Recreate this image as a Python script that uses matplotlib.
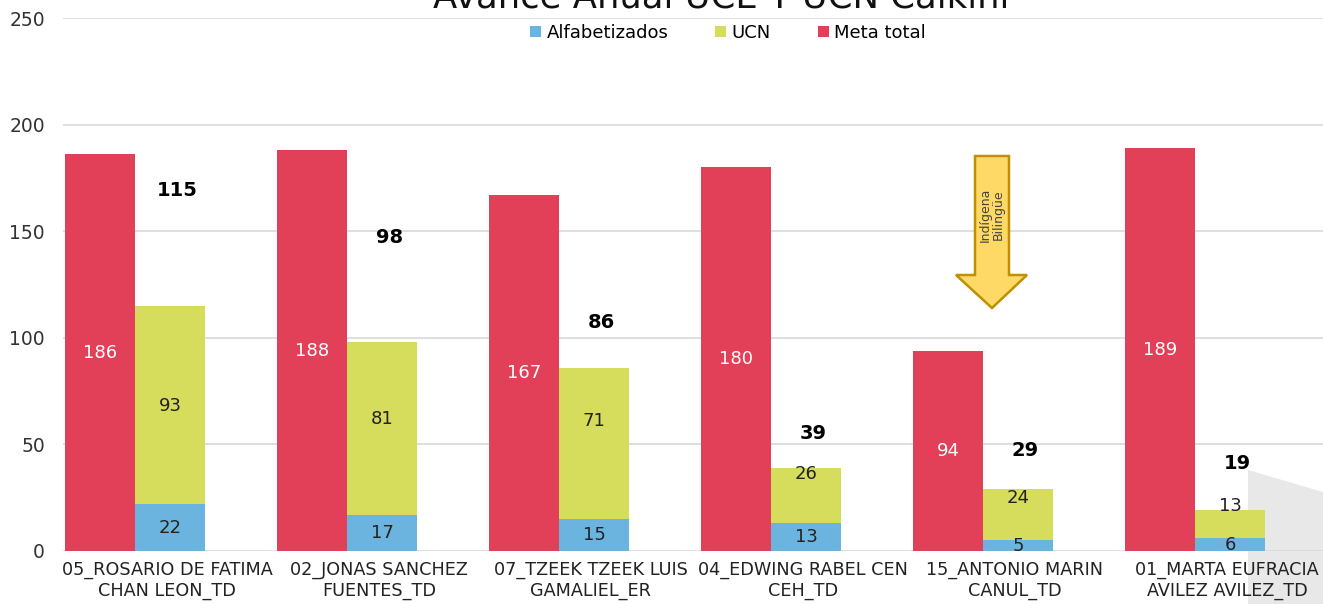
import matplotlib.pyplot as plt
import numpy as np
from matplotlib.patches import Polygon

# Data
categories = ['05_ROSARIO DE FATIMA\nCHAN LEON_TD', '02_JONAS SANCHEZ\nFUENTES_TD',
              '07_TZEEK TZEEK LUIS\nGAMALIEL_ER', '04_EDWING RABEL CEN\nCEH_TD',
              '15_ANTONIO MARIN\nCANUL_TD', '01_MARTA EUFRACIA\nAVILEZ AVILEZ_TD']
meta_total = [186, 188, 167, 180, 94, 189]
alfabetizados = [22, 17, 15, 13, 5, 6]
ucn = [93, 81, 71, 26, 24, 13]
totals = [115, 98, 86, 39, 29, 19]

# label heights (as placed in the original)
ucn_label_y = [68, 62, 61, 36, 25, 21]
total_label_y = [169, 147, 107, 55, 47, 41]

c_blue = '#6CB4E0'
c_green = '#D6DC5B'
c_red = '#E24058'

W, H = 1323, 604
fig = plt.figure(figsize=(W / 100, H / 100), dpi=100)
ax = fig.add_axes([63 / W, 1 - 551 / H, 1 - 63 / W, (551 - 18) / H])
ax.set_facecolor('none')

x = np.arange(len(categories))
width = 0.33
ax.bar(x - 0.315, meta_total, width, color=c_red, label='Meta total', zorder=3)
ax.bar(x + 0.015, alfabetizados, width, color=c_blue, label='Alfabetizados', zorder=3)
ax.bar(x + 0.015, ucn, width, bottom=alfabetizados, color=c_green, label='UCN', zorder=3)

for i in range(len(categories)):
    ax.text(x[i] - 0.315, meta_total[i] / 2, f"{meta_total[i]}", ha='center', va='center',
            color='white', fontsize=13, zorder=4)
    ax.text(x[i] + 0.015, alfabetizados[i] / 2, f"{alfabetizados[i]}", ha='center', va='center',
            color='#222222', fontsize=13, zorder=4)
    ax.text(x[i] + 0.015, ucn_label_y[i], f"{ucn[i]}", ha='center', va='center',
            color='#222222', fontsize=13, zorder=4)
    ax.text(x[i] + 0.05, total_label_y[i], f"{totals[i]}", ha='center', va='center',
            color='black', fontsize=14, fontweight='bold', zorder=4)

ax.set_xlim(-0.49, 5.453)
ax.set_ylim(0, 250)
ax.set_yticks(np.arange(0, 251, 50))
ax.set_xticks(x)
ax.set_xticklabels(categories, fontsize=12.7, color='#222222', linespacing=1.2)
ax.tick_params(axis='y', labelsize=13.5, labelcolor='#333333', length=0, pad=13)
ax.tick_params(axis='x', length=0, pad=7)
ax.grid(axis='y', color='#d9d9d9', linewidth=1.2, zorder=0)
for s in ax.spines.values():
    s.set_visible(False)

# Legend
handles, labels = ax.get_legend_handles_labels()
order = [1, 2, 0]
fig.legend([handles[k] for k in order], [labels[k] for k in order],
           loc='center', bbox_to_anchor=(728 / W, 1 - 33 / H), ncol=3, frameon=False,
           fontsize=13, handlelength=0.6, handleheight=0.6, handletextpad=0.3,
           columnspacing=2.6)

# Title (cut at top of the image, as in the original)
fig.text(721 / W, 1 - 8 / H, 'Avance Anual UCE Y UCN Calkini', ha='center', va='baseline',
         fontsize=25.5, color='#111111')

# Arrow annotation
arrow_px = [(975, 156), (1009, 156), (1009, 275), (1027, 275), (992, 308),
            (956, 275), (975, 275)]
arrow = Polygon([(px / W, 1 - py / H) for px, py in arrow_px], closed=True,
                transform=fig.transFigure, facecolor='#FFD966', edgecolor='#BF9000',
                linewidth=1.8, zorder=5)
fig.patches.append(arrow)
fig.text(992 / W, 1 - 215 / H, 'Indígena\nBilingüe', rotation=90, ha='center', va='center',
         fontsize=9, color='#444444', zorder=6, linespacing=1.0)

# Grey shadow shape at bottom right
shade_px = [(1248, 470), (1323, 492), (1323, 604), (1248, 604)]
shade = Polygon([(px / W, 1 - py / H) for px, py in shade_px], closed=True,
                transform=fig.transFigure, facecolor='#e8e8e8', edgecolor='none', zorder=-1)
fig.patches.append(shade)

fig.savefig('out.png', dpi=100)
